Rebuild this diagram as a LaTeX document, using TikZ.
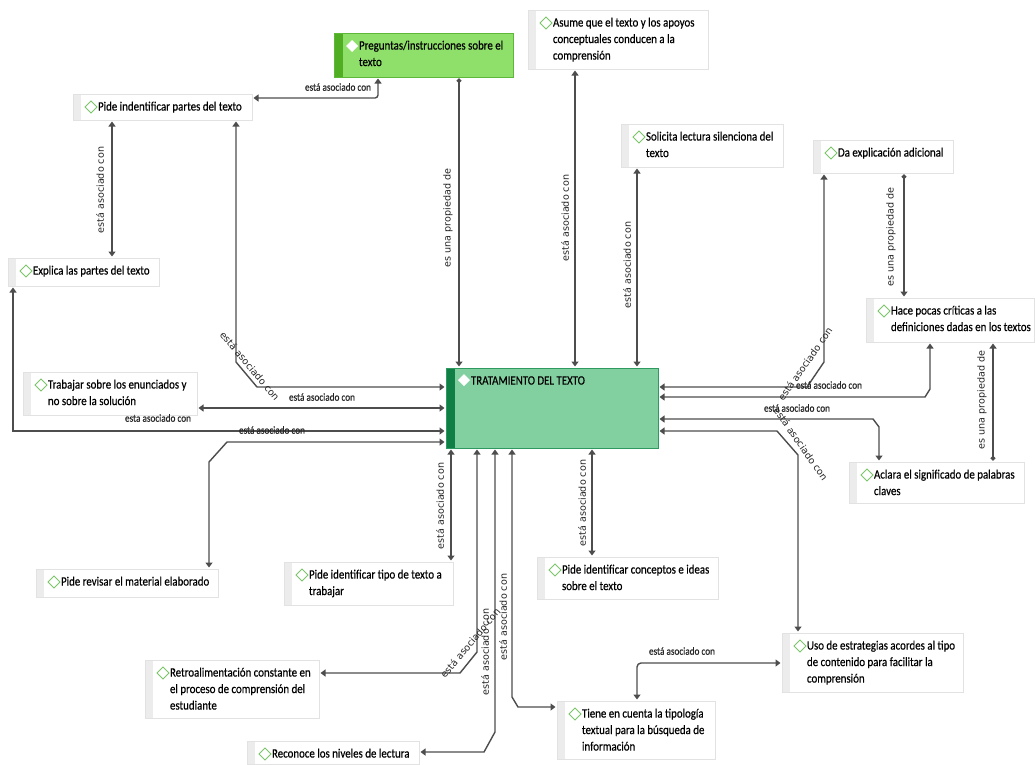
\documentclass[tikz,border=0pt]{standalone}
\usepackage{fontspec}
\setmainfont{Carlito}[FakeStretch=0.85, FakeBold=0.4]
\newfontfamily\lblfont{DejaVu Sans}
\usetikzlibrary{arrows.meta}

\definecolor{linegray}{HTML}{4D4D4D}
\definecolor{boxline}{HTML}{E2E2E2}
\definecolor{stripgray}{HTML}{ECECEC}
\definecolor{diagreen}{HTML}{7CC46A}
\definecolor{mainfill}{HTML}{82D0A0}
\definecolor{mainstrip}{HTML}{0F7F45}
\definecolor{mainline}{HTML}{2F9A5F}
\definecolor{pregfill}{HTML}{8FE06B}
\definecolor{pregstrip}{HTML}{4FAE22}
\definecolor{pregline}{HTML}{5DB83A}

\tikzset{
  plainbox/.style={draw=boxline, fill=white, line width=0.6pt, inner sep=0pt, outer sep=0pt,
    path picture={
      \fill[stripgray] (path picture bounding box.north west) rectangle ([xshift=8pt]path picture bounding box.south west);
      \draw[diagreen, fill=white, line width=0.9pt] ([shift={(12pt,-13pt)}]path picture bounding box.north west)
        -- ++(6pt,6pt) -- ++(6pt,-6pt) -- ++(-6pt,-6pt) -- cycle;
    }},
  mainbox/.style={draw=mainline, fill=mainfill, line width=1pt, inner sep=0pt, outer sep=0pt,
    path picture={
      \fill[mainstrip] (path picture bounding box.north west) rectangle ([xshift=9pt]path picture bounding box.south west);
      \fill[white] ([shift={(12pt,-12pt)}]path picture bounding box.north west)
        -- ++(6pt,6pt) -- ++(6pt,-6pt) -- ++(-6pt,-6pt) -- cycle;
    }},
  pregbox/.style={draw=pregline, fill=pregfill, line width=1pt, inner sep=0pt, outer sep=0pt,
    path picture={
      \fill[pregstrip] (path picture bounding box.north west) rectangle ([xshift=9pt]path picture bounding box.south west);
      \fill[white] ([shift={(12pt,-13pt)}]path picture bounding box.north west)
        -- ++(6pt,6pt) -- ++(6pt,-6pt) -- ++(-6pt,-6pt) -- cycle;
    }},
  ctext/.style={inner sep=0pt, outer sep=0pt, align=left, text=black,
    font=\fontsize{12.8}{16.5}\selectfont},
  conn/.style={draw=linegray, line width=1.4pt,
    arrows={-Triangle[width=7pt,length=5pt]}, shorten <=1.5pt, shorten >=1.5pt},
  both/.style={arrows={Triangle[width=7pt,length=5pt]-Triangle[width=7pt,length=5pt]}},
  prop/.style={arrows={Circle[length=4.5pt]-Triangle[width=7pt,length=5pt]}},
  hlbl/.style={inner sep=0pt, text=black!85, font=\fontsize{10.8}{12}\selectfont},
  vlbl/.style={inner sep=0pt, text=black!85, font=\lblfont\fontsize{9.6}{11}\selectfont},
}

% \cbox[style]{name}{x1}{y1}{x2}{y2}{text}
\newcommand\cbox[7][plainbox]{%
  \node[#1, anchor=north west, minimum width={(#5-#3)*1pt}, minimum height={(#6-#4)*1pt}] (#2) at (#3,#4) {};
  \node[ctext, anchor=north west] (#2-t) at ({#3+25},{#4+5}) {\strut #7};
}

\begin{document}
\begin{tikzpicture}[x=1pt, y=-1pt]
\useasboundingbox (0,0) rectangle (1035,764);
\fill[white] (0,0) rectangle (1035,764);

% concepts
\cbox[pregbox]{preg}{334}{33}{513}{77}{Preguntas/instrucciones sobre el\\texto}
\cbox{partes}{73}{94}{252}{120}{Pide indentificar partes del texto}
\cbox{explica}{8}{258}{159}{286}{Explica las partes del texto}
\cbox{asume}{528}{10}{708}{69}{Asume que el texto y los apoyos\\conceptuales conducen a la\\comprensión}
\cbox{solicita}{621}{124}{783}{167}{Solicita lectura silenciona del\\texto}
\cbox{da}{813}{140}{953}{173}{Da explicación adicional}
\cbox{hace}{866}{298}{1034}{342}{Hace pocas críticas a las\\definiciones dadas en los textos}
\cbox{aclara}{849}{462}{1024}{503}{Aclara el significado de palabras\\claves}
\cbox[mainbox]{trat}{446}{368}{658}{448}{TRATAMIENTO DEL TEXTO}
\cbox{trabajar}{23}{372}{197}{415}{Trabajar sobre los enunciados y\\no sobre la solución}
\cbox{revisar}{36}{569}{218}{597}{Pide revisar el material elaborado}
\cbox{tipo}{284}{562}{453}{605}{Pide identificar tipo de texto a\\trabajar}
\cbox{retro}{145}{660}{319}{718}{Retroalimentación constante en\\el proceso de comprensión del\\estudiante}
\cbox{reconoce}{247}{741}{419}{764}{Reconoce los niveles de lectura}
\cbox{conceptos}{537}{557}{718}{599}{Pide identificar conceptos e ideas\\sobre el texto}
\cbox{uso}{782}{633}{963}{692}{Uso de estrategias acordes al tipo\\de contenido para facilitar la\\comprensión}
\cbox{tiene}{557}{701}{715}{759}{Tiene en cuenta la tipología\\textual para la búsqueda de\\información}

% connectors
\draw[conn, both, rounded corners=3pt] (378,0 |- preg.south) -- (378,98) -- (partes.east |- 0,98);
\draw[conn, prop] (459,0 |- preg.south) -- (459,0 |- trat.north);
\draw[conn, both] (112,0 |- partes.south) -- (112,0 |- explica.north);
\draw[conn, both] (236,0 |- partes.south) -- (236,362) -- (257,387) -- (trat.west |- 0,387);
\draw[conn, both] (trabajar.east |- 0,408) -- (trat.west |- 0,408);
\draw[conn, both] (13,0 |- explica.south) -- (13,431) -- (trat.west |- 0,431);
\draw[conn, both] (209,0 |- revisar.north) -- (209,462) -- (227,442) -- (trat.west |- 0,442);
\draw[conn, both] (575,0 |- asume.south) -- (575,0 |- trat.north);
\draw[conn, both] (637,0 |- solicita.south) -- (637,0 |- trat.north);
\draw[conn, both] (824,0 |- da.south) -- (824,362) -- (807,387) -- (trat.east |- 0,387);
\draw[conn, both] (930,0 |- hace.south) -- (930,389) -- (925,397) -- (trat.east |- 0,397);
\draw[conn, both] (trat.east |- 0,419) -- (873,419) -- (879,427) -- (879,0 |- aclara.north);
\draw[conn, both] (trat.east |- 0,431) -- (777,431) -- (798,455) -- (798,0 |- uso.north);
\draw[conn, prop] (904,0 |- da.south) -- (904,0 |- hace.north);
\draw[conn, prop] (993,0 |- aclara.north) -- (993,0 |- hace.south);
\draw[conn, both] (451,0 |- trat.south) -- (451,0 |- tipo.north);
\draw[conn, both] (477,0 |- trat.south) -- (477,652) -- (460,673) -- (retro.east |- 0,673);
\draw[conn, both] (495,0 |- trat.south) -- (495,732) -- (484,752) -- (reconoce.east |- 0,752);
\draw[conn, both] (512,0 |- trat.south) -- (512,697) -- (518,707) -- (tiene.west |- 0,707);
\draw[conn, both] (592,0 |- trat.south) -- (592,0 |- conceptos.north);
\draw[conn, both, rounded corners=4pt] (637,0 |- tiene.north) -- (637,663) -- (uso.west |- 0,663);

% connector labels
\node[hlbl] (l1) at (338,87) {está asociado con};
\node[vlbl, rotate=90] (l2) at (448,218) {es una propiedad de};
\node[vlbl, rotate=90] (l3) at (100,190) {está asociado con};
\node[vlbl, rotate=-50] (l4) at (250,366) {está asociado con};
\node[hlbl] (l5) at (322,397) {está asociado con};
\node[hlbl] (l6) at (158,418) {esta asociado con};
\node[hlbl] (l7) at (272,430) {está asociado con};
\node[vlbl, rotate=90] (l8) at (565,218) {está asociado con};
\node[vlbl, rotate=90] (l9) at (627,265) {está asociado con};
\node[vlbl, rotate=55] (l10) at (805,364) {está asociado con};
\node[hlbl] (l11) at (829,385) {está asociado con};
\node[hlbl] (l12) at (797,408) {está asociado con};
\node[vlbl, rotate=-55] (l13) at (801,444) {está asociado con};
\node[vlbl, rotate=90] (l14) at (891,237) {es una propiedad de};
\node[vlbl, rotate=90] (l15) at (982,400) {es una propiedad de};
\node[vlbl, rotate=90] (l16) at (440,506) {está asociado con};
\node[vlbl, rotate=50] (l17) at (470,643) {está asociado con};
\node[vlbl, rotate=90] (l18) at (485,652) {está asociado con};
\node[vlbl, rotate=90] (l19) at (503,617) {está asociado con};
\node[vlbl, rotate=90] (l20) at (582,503) {está asociado con};
\node[hlbl] (l21) at (682,651) {está asociado con};
\end{tikzpicture}
\end{document}
